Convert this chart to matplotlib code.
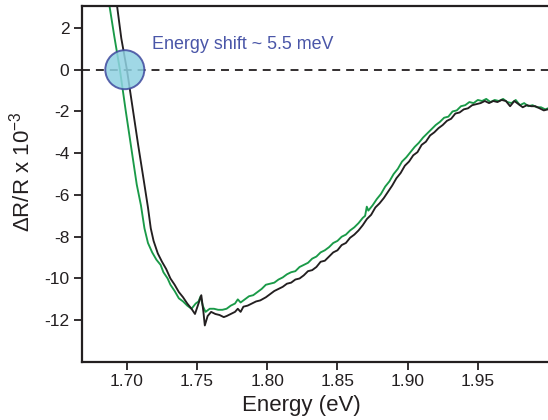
import numpy as np
import matplotlib.pyplot as plt
from matplotlib.patches import Ellipse

plt.rcParams['font.family'] = ['Liberation Sans', 'DejaVu Sans']
plt.rcParams['font.size'] = 12
plt.rcParams['mathtext.fontset'] = 'custom'
plt.rcParams['mathtext.rm'] = 'Liberation Sans'
plt.rcParams['mathtext.it'] = 'Liberation Sans:italic'

# black trace (reference)
e_black = [1.6925, 1.6960, 1.7000, 1.7040, 1.7080, 1.7120, 1.7150, 1.7170, 1.7190, 1.7220,
           1.7250, 1.7280, 1.7310, 1.7340, 1.7370, 1.7400, 1.7430, 1.7460, 1.7485, 1.7500,
           1.7530, 1.7545, 1.7555, 1.7575, 1.7600, 1.7630, 1.7660, 1.7690, 1.7710, 1.7740,
           1.7770, 1.7790, 1.7810, 1.7830, 1.7860, 1.7890, 1.7920, 1.7950, 1.7990, 1.8020,
           1.8050, 1.8080, 1.8110, 1.8140, 1.8170, 1.8200, 1.8230, 1.8260, 1.8290, 1.8320,
           1.8350, 1.8380, 1.8410, 1.8440, 1.8470, 1.8500, 1.8530, 1.8560, 1.8590, 1.8620,
           1.8650, 1.8680, 1.8710, 1.8740, 1.8770, 1.8800, 1.8830, 1.8860, 1.8890, 1.8920,
           1.8950, 1.8980, 1.9010, 1.9040, 1.9070, 1.9100, 1.9130, 1.9160, 1.9190, 1.9220,
           1.9250, 1.9280, 1.9310, 1.9340, 1.9370, 1.9400, 1.9430, 1.9460, 1.9490, 1.9520,
           1.9550, 1.9580, 1.9610, 1.9640, 1.9670, 1.9700, 1.9730, 1.9760, 1.9790, 1.9820,
           1.9850, 1.9880, 1.9910, 1.9940, 1.9970, 2.0000]
dr_black = [3.3, 1.5, 0.0, -1.8, -3.6, -5.3, -6.6, -7.6, -8.2, -8.8,
            -9.2, -9.55, -10.0, -10.3, -10.65, -10.9, -11.2, -11.45, -11.7, -11.4,
            -10.8, -11.6, -12.25, -11.8, -11.6, -11.7, -11.75, -11.85, -11.8, -11.7,
            -11.6, -11.45, -11.6, -11.35, -11.3, -11.2, -11.1, -11.05, -10.9, -10.75,
            -10.6, -10.5, -10.4, -10.25, -10.2, -10.05, -10.0, -9.85, -9.65, -9.6,
            -9.45, -9.2, -9.15, -8.95, -8.75, -8.65, -8.4, -8.3, -8.05, -7.9,
            -7.7, -7.45, -7.15, -6.95, -6.6, -6.4, -6.15, -5.85, -5.55, -5.2,
            -4.95, -4.6, -4.4, -4.1, -3.95, -3.6, -3.45, -3.15, -3.0, -2.8,
            -2.65, -2.45, -2.35, -2.1, -2.05, -1.9, -1.85, -1.7, -1.65, -1.6,
            -1.5, -1.6, -1.5, -1.55, -1.45, -1.5, -1.75, -1.5, -1.65, -1.8,
            -1.7, -1.75, -1.75, -1.85, -1.95, -1.9]

# green trace (shifted)
e_green = [1.6870, 1.6910, 1.6950, 1.6990, 1.7030, 1.7070, 1.7100, 1.7125, 1.7150, 1.7180,
           1.7210, 1.7240, 1.7260, 1.7290, 1.7310, 1.7340, 1.7370, 1.7400, 1.7430, 1.7460,
           1.7490, 1.7510, 1.7525, 1.7540, 1.7560, 1.7590, 1.7620, 1.7650, 1.7680, 1.7710,
           1.7740, 1.7770, 1.7790, 1.7810, 1.7840, 1.7870, 1.7900, 1.7930, 1.7960, 1.7990,
           1.8020, 1.8050, 1.8080, 1.8110, 1.8140, 1.8170, 1.8200, 1.8230, 1.8260, 1.8290,
           1.8320, 1.8350, 1.8380, 1.8410, 1.8440, 1.8470, 1.8500, 1.8530, 1.8560, 1.8590,
           1.8620, 1.8650, 1.8680, 1.8697, 1.8709, 1.8720, 1.8750, 1.8780, 1.8810, 1.8840,
           1.8870, 1.8900, 1.8930, 1.8960, 1.8990, 1.9020, 1.9050, 1.9080, 1.9110, 1.9140,
           1.9170, 1.9200, 1.9230, 1.9260, 1.9290, 1.9320, 1.9350, 1.9380, 1.9410, 1.9440,
           1.9470, 1.9500, 1.9530, 1.9560, 1.9590, 1.9620, 1.9650, 1.9680, 1.9710, 1.9740,
           1.9770, 1.9800, 1.9830, 1.9860, 1.9890, 1.9920, 1.9950, 1.9980, 2.0000]
dr_green = [3.3, 1.6, 0.0, -1.9, -3.7, -5.5, -6.5, -7.6, -8.3, -8.75,
            -9.1, -9.35, -9.7, -10.0, -10.3, -10.6, -10.95, -11.1, -11.3, -11.45,
            -11.2, -11.1, -10.85, -11.3, -11.6, -11.45, -11.45, -11.5, -11.5, -11.45,
            -11.3, -11.2, -11.0, -11.15, -11.0, -10.85, -10.8, -10.65, -10.5, -10.3,
            -10.25, -10.2, -10.05, -9.95, -9.8, -9.7, -9.65, -9.45, -9.35, -9.25,
            -9.05, -8.95, -8.75, -8.65, -8.5, -8.3, -8.2, -8.0, -7.9, -7.7,
            -7.55, -7.35, -7.1, -7.0, -6.56, -6.75, -6.5, -6.2, -5.95, -5.6,
            -5.35, -5.0, -4.75, -4.4, -4.2, -3.95, -3.7, -3.5, -3.25, -3.05,
            -2.85, -2.65, -2.5, -2.3, -2.25, -2.0, -1.95, -1.75, -1.7, -1.55,
            -1.6, -1.45, -1.5, -1.4, -1.55, -1.45, -1.5, -1.4, -1.55, -1.6,
            -1.45, -1.7, -1.6, -1.75, -1.7, -1.8, -1.8, -1.9, -1.85]

x_ticks = [1.70, 1.75, 1.80, 1.85, 1.90, 1.95]
y_ticks = [2, 0, -2, -4, -6, -8, -10, -12]

fig = plt.figure(figsize=(5.48, 4.2), dpi=100)
ax = fig.add_axes([82 / 548, 58 / 420, 466 / 548, 356 / 420])

ax.axhline(0, color='#231f20', lw=1.3, ls=(0, (4.4, 3.3)), zorder=1)
ax.plot(e_green, dr_green, color='#1a9a48', lw=1.35, zorder=2)
ax.plot(e_black, dr_black, color='#231f20', lw=1.35, zorder=3)

# marker circle around the zero crossing
x0, x1 = 1.668, 2.0
y0, y1 = -14.0, 3.05
rad_px = 19.5
w = 2 * rad_px * (x1 - x0) / 466
h = 2 * rad_px * (y1 - y0) / 356
ax.add_patch(Ellipse((1.6985, 0), w, h, facecolor='#8fd2e2', edgecolor='#3f4a9e',
                     lw=1.4, alpha=0.85, zorder=4))

ax.text(1.7177, 1.2, 'Energy shift ~ 5.5 meV', color='#4a56a8', fontsize=12.9,
        va='center', ha='left')

ax.set_xlim(x0, x1)
ax.set_ylim(y0, y1)
ax.set_xticks(x_ticks)
ax.set_xticklabels(['%.2f' % t for t in x_ticks])
ax.set_yticks(y_ticks)
ax.set_yticklabels([str(t) for t in y_ticks])
ax.tick_params(direction='out', length=6, width=1.3, color='#231f20',
               labelcolor='#231f20', labelsize=12.5, pad=3)

for s in ['left', 'bottom', 'top']:
    ax.spines[s].set_linewidth(1.6)
    ax.spines[s].set_color('#231f20')
ax.spines['right'].set_visible(False)

# axis titles
fig.text(301 / 548, 1 - 411.5 / 420, 'Energy (eV)', fontsize=16, color='#231f20',
         ha='center', va='baseline')
fig.text(22 / 548, 1 - 172 / 420, r'ΔR/R x 10$^{\mathrm{-3}}$', fontsize=16,
         color='#231f20', ha='center', va='center', rotation=90)

fig.savefig('out.png', dpi=100)
